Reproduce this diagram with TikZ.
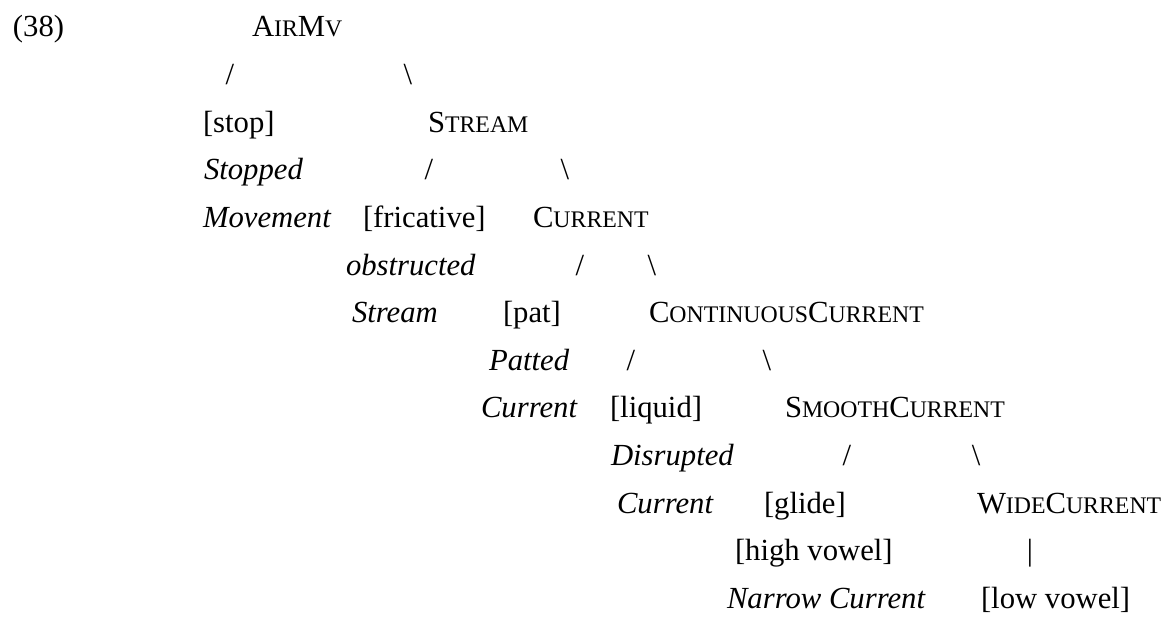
\documentclass[tikz,border=0pt]{standalone}
\usepackage{fontspec}
\setmainfont{Liberation Serif}
\usepackage{tikz}

\newcommand{\fsc}[2]{#1{\fontsize{9.3}{11}\selectfont #2}}

\begin{document}
\begin{tikzpicture}[
    x=0.391pt, y=-0.391pt,
    every node/.style={inner sep=0pt, outer sep=0pt, font=\fontsize{12}{14}\selectfont},
    word/.style={anchor=base west},
    gloss/.style={anchor=base west, font=\fontsize{12}{14}\selectfont\itshape},
    branch/.style={anchor=base}
    ]
    \useasboundingbox (0,0) rectangle (1165,616);
    % Root
    \node[word] (n38) at (13,37) {(38)};
    \node[word] (airmv) at (252,37) {\fsc{A}{IR}\fsc{M}{V}};
    \node[branch] (lairmv) at (230,84.6) {/};
    \node[branch] (rairmv) at (408,84.6) {\textbackslash};
    % Stream
    \node[word] (stop) at (203,132.2) {[stop]};
    \node[word] (stream) at (428,132.2) {\fsc{S}{TREAM}};
    \node[gloss] (stopped) at (204,179.8) {Stopped};
    \node[branch] (lstream) at (429,179.8) {/};
    \node[branch] (rstream) at (565,179.8) {\textbackslash};
    \node[gloss] (movement) at (203,227.4) {Movement};
    \node[word] (fricative) at (363,227.4) {[fricative]};
    \node[word] (current) at (533,227.4) {\fsc{C}{URRENT}};
    % Current
    \node[gloss] (obstructed) at (346,275) {obstructed};
    \node[branch] (lcurrent) at (580,275) {/};
    \node[branch] (rcurrent) at (652,275) {\textbackslash};
    \node[gloss] (streamit) at (352,322.6) {Stream};
    \node[word] (pat) at (503,322.6) {[pat]};
    \node[word] (contcur) at (649,322.6) {\fsc{C}{ONTINUOUS}\fsc{C}{URRENT}};
    % Continuous current
    \node[gloss] (patted) at (489,370.2) {Patted};
    \node[branch] (lcont) at (631,370.2) {/};
    \node[branch] (rcont) at (767,370.2) {\textbackslash};
    \node[gloss] (currentpat) at (481,417.8) {Current};
    \node[word] (liquid) at (610,417.8) {[liquid]};
    \node[word] (smooth) at (785,417.8) {\fsc{S}{MOOTH}\fsc{C}{URRENT}};
    % Smooth current
    \node[gloss] (disrupted) at (611,465.4) {Disrupted};
    \node[branch] (lsmooth) at (847,465.4) {/};
    \node[branch] (rsmooth) at (976,465.4) {\textbackslash};
    \node[gloss] (currentdis) at (617,513) {Current};
    \node[word] (glide) at (764,513) {[glide]};
    \node[word] (wide) at (977,513) {\fsc{W}{IDE}\fsc{C}{URRENT}};
    % Wide current
    \node[word] (high) at (735,560.6) {[high vowel]};
    \node[branch] (widebar) at (1030,560.6) {|};
    \node[gloss] (narrow) at (727,608.2) {Narrow Current};
    \node[word] (low) at (981,608.2) {[low vowel]};
\end{tikzpicture}
\end{document}
